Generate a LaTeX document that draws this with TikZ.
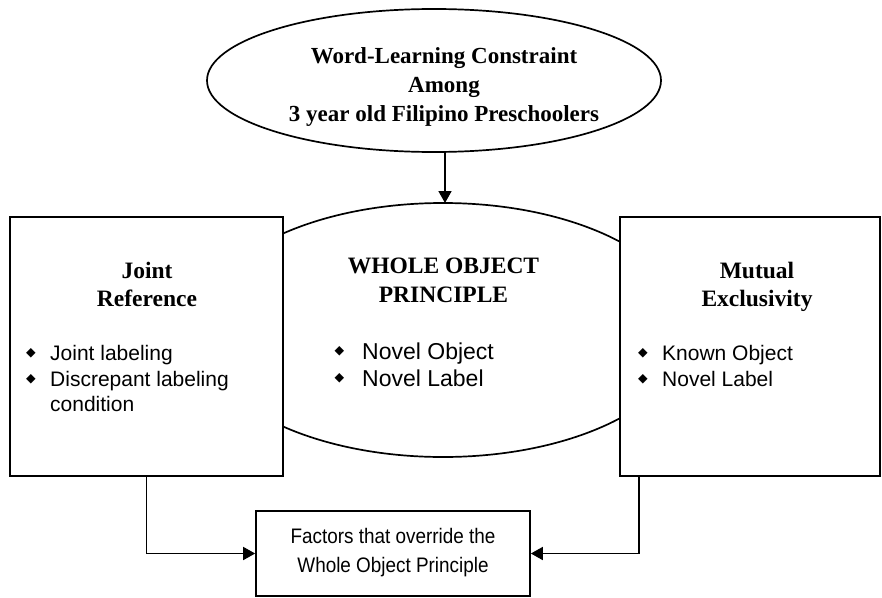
\documentclass[tikz,border=0pt]{standalone}
\usepackage{fontspec}
\setmainfont{Liberation Serif}
\newfontfamily\arialf{Liberation Sans}
\newfontfamily\narrowf[FakeStretch=0.9]{Liberation Sans}
\newfontfamily\symf{DejaVu Sans}
\usetikzlibrary{arrows.meta}
\newcommand{\bulsym}{{\symf\fontsize{12.5}{12.5}\selectfont ◆}}
\begin{document}
\begin{tikzpicture}[x=1pt,y=-1pt,
  shp/.style={draw=black,line width=1.7pt,fill=white},
  ttl/.style={font=\bfseries\fontsize{23.5}{23.5}\selectfont,anchor=base,inner sep=0pt},
  toptxt/.style={font=\bfseries\fontsize{23}{23}\selectfont,anchor=base,inner sep=0pt},
  bul/.style={font=\arialf\fontsize{21}{21}\selectfont,anchor=base west,inner sep=0pt},
  bulm/.style={font=\arialf\fontsize{23}{23}\selectfont,anchor=base west,inner sep=0pt},
  dia/.style={anchor=center,inner sep=0pt},
  bot/.style={font=\narrowf\fontsize{21}{21}\selectfont,anchor=base,inner sep=0pt},
  conn/.style={line width=1.7pt,-{Triangle[length=12pt,width=13pt]}}]
\useasboundingbox (0,0) rectangle (882,597);
\fill[white] (0,0) rectangle (882,597);
% top ellipse
\draw[shp] (434,80.5) ellipse [x radius=227,y radius=71.5];
\node[inner sep=0pt,minimum width=454pt,minimum height=143pt] (top) at (434,80.5) {};
\node[toptxt] (t1) at (444,63) {Word-Learning Constraint};
\node[toptxt] (t2) at (444,92.5) {Among};
\node[toptxt] (t3) at (444,121.5) {3 year old Filipino Preschoolers};
% middle ellipse
\draw[shp] (443,330) ellipse [x radius=246,y radius=127];
\coordinate (midtop) at (445,203);
% side boxes
\node[shp,minimum width=273pt,minimum height=259pt,inner sep=0pt] (left) at (146.5,346.5) {};
\node[shp,minimum width=260pt,minimum height=259pt,inner sep=0pt] (right) at (750,346.5) {};
% bottom box
\node[shp,minimum width=274pt,minimum height=85pt,inner sep=0pt] (bottom) at (393,553.5) {};
% left texts
\node[ttl] (lt1) at (147,278) {Joint};
\node[ttl] (lt2) at (147,306) {Reference};
\node[dia] (ld1) at (31,353) {\bulsym};
\node[bul] (lb1) at (50,360.5) {Joint labeling};
\node[dia] (ld2) at (31,379) {\bulsym};
\node[bul] (lb2) at (50,386.5) {Discrepant labeling};
\node[bul] (lb3) at (50,411.5) {condition};
% middle texts
\node[ttl] (mt1) at (443.5,273) {WHOLE OBJECT};
\node[ttl] (mt2) at (443.5,302.5) {PRINCIPLE};
\node[dia] (md1) at (339.5,351) {\bulsym};
\node[bulm] (mb1) at (362,359) {Novel Object};
\node[dia] (md2) at (339.5,378) {\bulsym};
\node[bulm] (mb2) at (362,386.5) {Novel Label};
% right texts
\node[ttl] (rt1) at (757,278) {Mutual};
\node[ttl] (rt2) at (757,306) {Exclusivity};
\node[dia] (rd1) at (643,353) {\bulsym};
\node[bul] (rb1) at (662,360.5) {Known Object};
\node[dia] (rd2) at (643,379) {\bulsym};
\node[bul] (rb2) at (662,386.5) {Novel Label};
% bottom texts
\node[bot] (bt1) at (393,543.5) {Factors that override the};
\node[bot] (bt2) at (393,572.5) {Whole Object Principle};
% connectors
\draw[conn] (top.south -| midtop) -- (midtop);
\draw[conn] (left.south) |- (bottom.west);
\coordinate (rfoot) at (639,476);
\draw[conn] (rfoot) |- (bottom.east);
\end{tikzpicture}
\end{document}
